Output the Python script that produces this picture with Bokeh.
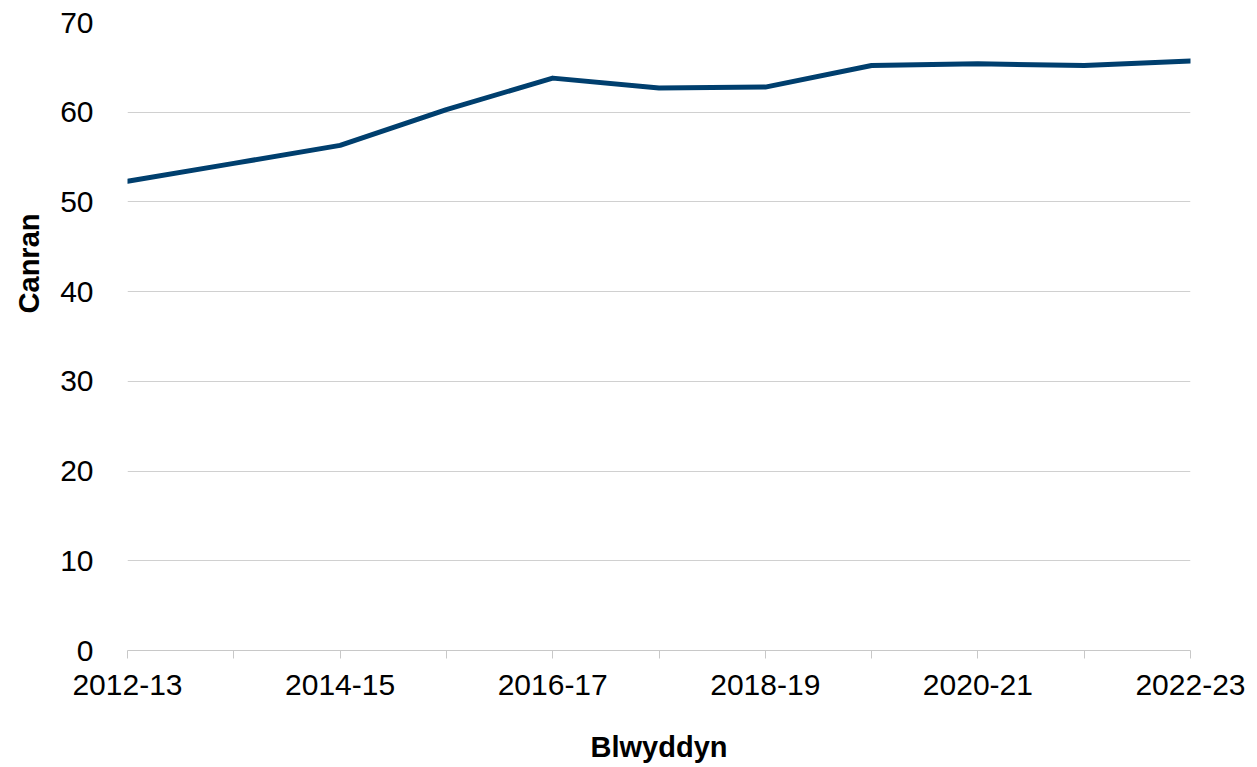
from bokeh.plotting import figure
from bokeh.models import Range1d, FixedTicker, Title
from bokeh.embed import file_html
from bokeh.resources import INLINE

years = ["2012-13", "2013-14", "2014-15", "2015-16", "2016-17", "2017-18",
         "2018-19", "2019-20", "2020-21", "2021-22", "2022-23"]
values = [52.3, 54.3, 56.3, 60.3, 63.8, 62.7, 62.8, 65.2, 65.4, 65.2, 65.7]
y_ticks = [0, 10, 20, 30, 40, 50, 60, 70]

xs = list(range(len(years)))
FONT = "Liberation Sans"

p = figure(width=1250, height=767, output_backend="svg", toolbar_location=None,
           x_range=Range1d(0, len(years) - 1), y_range=Range1d(0, 70),
           min_border_left=127, min_border_right=60, min_border_top=22, min_border_bottom=117)
p.outline_line_color = None
p.background_fill_color = "white"
p.border_fill_color = "white"

p.line(xs, values, line_color="#003f6e", line_width=5, line_join="round", line_cap="round")

# x axis
p.xaxis.ticker = FixedTicker(ticks=xs)
p.xaxis.major_label_overrides = {i: (years[i] if i % 2 == 0 else "") for i in xs}
p.xaxis.axis_label = "Blwyddyn"
p.xaxis.axis_label_text_font = FONT
p.xaxis.axis_label_text_font_style = "bold"
p.xaxis.axis_label_text_font_size = "29px"
p.xaxis.axis_label_text_color = "black"
p.xaxis.axis_label_standoff = 33
p.xaxis.major_label_text_font = FONT
p.xaxis.major_label_text_font_size = "30px"
p.xaxis.major_label_text_color = "black"
p.xaxis.major_label_standoff = 16
p.xaxis.axis_line_color = "#c8c8c8"
p.xaxis.major_tick_line_color = "#c8c8c8"
p.xaxis.major_tick_out = 8
p.xaxis.major_tick_in = 0
p.xaxis.minor_tick_line_color = None

# y axis
p.yaxis.ticker = FixedTicker(ticks=y_ticks)
p.yaxis.major_label_text_font = FONT
p.yaxis.major_label_text_font_size = "30px"
p.yaxis.major_label_text_color = "black"
p.yaxis.major_label_standoff = 28
p.yaxis.axis_line_color = None
p.yaxis.major_tick_line_color = None
p.yaxis.minor_tick_line_color = None

ytitle = Title(text="Canran", align="right", offset=191, vertical_align="top",
               standoff=22, text_font=FONT, text_font_style="bold",
               text_font_size="29px", text_color="black")
p.add_layout(ytitle, "left")

p.xgrid.grid_line_color = None
p.ygrid.grid_line_color = "#d0d0d0"
p.ygrid.grid_line_width = 1

open("out.html", "w").write(file_html(p, INLINE))
